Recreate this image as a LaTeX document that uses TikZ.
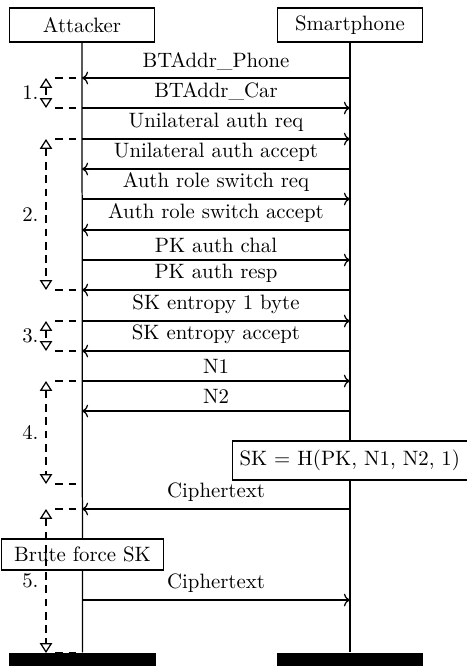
\documentclass[tikz,border=0pt]{standalone}
\usetikzlibrary{arrows.meta, positioning, calc}

\begin{document}
\begin{tikzpicture}[
        x=0.4808pt, y=-0.4808pt, semithick,
        actor/.style={rectangle, draw, minimum width=70pt, minimum height=16.3pt, inner sep=0pt},
        lifeend/.style={rectangle, fill=black, minimum width=70.5pt, minimum height=8pt, inner sep=0pt},
        note/.style={rectangle, draw, fill=white, minimum height=18.7pt},
        msg/.style={->},
        phaseline/.style={dash pattern=on 3.7pt off 2.7pt},
        phase/.style={phaseline, {Triangle[open, length=4.8pt, width=6pt]}-{Triangle[open, length=4.8pt, width=6pt]}}
    ]
        \useasboundingbox (0,0) rectangle (466,666);

        % Actors
        \node[actor] (attacker) at (82,25) {Attacker};
        \node[actor] (phone) at (350,25) {Smartphone};
        \node[lifeend] (attackerEnd) at (82.5,661) {};
        \node[lifeend] (phoneEnd) at (350,661) {};
        \draw (attacker.south) -- (attackerEnd.north);
        \draw (phone.south) -- (phoneEnd.north);

        % Message rows on the lifelines
        \foreach \y [count=\i] in {78,108,139,169,199,230,260,290,321,351,381,411,509,600}{
            \coordinate (a\i) at (attacker |- 0,\y);
            \coordinate (s\i) at (phone |- 0,\y);
        }

        % Messages
        \draw[msg] (s1) -- (a1) node[midway, above] {BTAddr\_Phone};
        \draw[msg] (a2) -- (s2) node[midway, above] {BTAddr\_Car};
        \draw[msg] (a3) -- (s3) node[midway, above] {Unilateral auth req};
        \draw[msg] (s4) -- (a4) node[midway, above] {Unilateral auth accept};
        \draw[msg] (a5) -- (s5) node[midway, above] {Auth role switch req};
        \draw[msg] (s6) -- (a6) node[midway, above] {Auth role switch accept};
        \draw[msg] (a7) -- (s7) node[midway, above] {PK auth chal};
        \draw[msg] (s8) -- (a8) node[midway, above] {PK auth resp};
        \draw[msg] (a9) -- (s9) node[midway, above] {SK entropy 1 byte};
        \draw[msg] (s10) -- (a10) node[midway, above] {SK entropy accept};
        \draw[msg] (a11) -- (s11) node[midway, above] {N1};
        \draw[msg] (s12) -- (a12) node[midway, above] {N2};
        \node[note, minimum width=118pt, anchor=west, align=left] (skcalc) at (232,460.5) {SK $=$ H(PK, N1, N2, 1)\hspace{6pt}};
        \draw[msg] (s13) -- (a13) node[midway, above] {Ciphertext};
        \node[note, minimum width=78pt, minimum height=15pt] (brute) at (82.5,554.5) {Brute force SK};
        \draw[msg] (a14) -- (s14) node[midway, above] {Ciphertext};

        % Phases
        \coordinate (ph1t) at (46,78);
        \coordinate (ph1b) at (46,108);
        \coordinate (ph2t) at (46,139);
        \coordinate (ph2b) at (46,290);
        \coordinate (ph3t) at (46,321);
        \coordinate (ph3b) at (46,351);
        \coordinate (ph4t) at (46,381);
        \coordinate (ph4b) at (46,484);
        \coordinate (ph5t) at (46,509);
        \coordinate (ph5b) at (46,653);
        \foreach \p in {ph1t,ph1b,ph2t,ph2b,ph3t,ph3b,ph4t,ph4b,ph5t,ph5b}
            \draw[phaseline] ([xshift=4.5pt]\p) -- (\p -| attacker);
        \draw[phase] (ph1t) -- (ph1b) node[midway, left] {1.};
        \draw[phase] (ph2t) -- (ph2b) node[midway, left] {2.};
        \draw[phase] (ph3t) -- (ph3b) node[midway, left] {3.};
        \draw[phase] (ph4t) -- (ph4b) node[midway, left] {4.};
        \draw[phase] (ph5t) -- (ph5b) node[midway, left] {5.};

        % Lifeline ends on top
        \node[lifeend] at (attackerEnd) {};
        \node[lifeend] at (phoneEnd) {};
    \end{tikzpicture}
\end{document}
